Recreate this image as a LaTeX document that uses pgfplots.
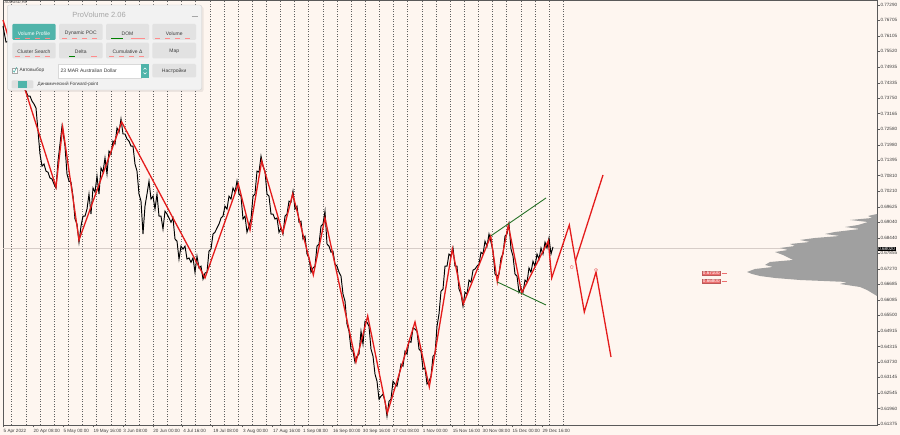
\documentclass[border=0pt]{standalone}
\usepackage{pgfplots}
\pgfplotsset{compat=1.18}
\usepackage{fontspec}
\setmainfont{Liberation Sans}
\definecolor{bgc}{RGB}{254,246,240}
\definecolor{axc}{RGB}{90,90,90}
\definecolor{txc}{RGB}{60,60,60}
\definecolor{redc}{RGB}{228,28,28}
\definecolor{greenc}{RGB}{40,115,40}
\definecolor{profc}{RGB}{160,160,160}
\definecolor{pricec}{RGB}{215,205,200}
\definecolor{lblred}{RGB}{236,110,110}
\definecolor{pinkc}{RGB}{240,140,140}
\definecolor{panelc}{RGB}{242,242,242}
\definecolor{btnc}{RGB}{226,226,226}
\definecolor{tealc}{RGB}{80,180,170}
\begin{document}
\begin{tikzpicture}
\fill[bgc] (-3pt,-10pt) rectangle (897pt,425pt);
\useasboundingbox (-3pt,-10pt) rectangle (897pt,425pt);
\begin{axis}[name=main, at={(0pt,0pt)}, anchor=south west,
  scale only axis, width=874pt, height=425pt,
  xmin=3, xmax=877, ymin=0.61338, ymax=0.77480, clip=false,
  axis line style={draw=axc, line width=0.5pt},
  xtick pos=bottom, ytick pos=right, yticklabel pos=right,
  tick align=outside, major tick length=2.5pt, tick style={axc, line width=0.4pt},
  xtick={3,32.94,62.88,92.82,122.76,152.7,182.64,212.58,242.52,272.46,302.4,332.34,362.28,392.22,422.16,452.1,482.04,511.98,541.92},
  xticklabels={5 Apr 2022,20 Apr 08:00,5 May 00:00,19 May 16:00,3 Jun 08:00,20 Jun 00:00,4 Jul 16:00,19 Jul 08:00,3 Aug 00:00,17 Aug 16:00,1 Sep 08:00,16 Sep 00:00,30 Sep 16:00,17 Oct 08:00,1 Nov 00:00,15 Nov 16:00,30 Nov 08:00,15 Dec 00:00,29 Dec 16:00},
  ytick={0.77290,0.76705,0.76105,0.75520,0.74935,0.74335,0.73750,0.73165,0.72580,0.71980,0.71395,0.70810,0.70210,0.69625,0.69040,0.68440,0.67855,0.67270,0.66685,0.66085,0.65500,0.64915,0.64315,0.63730,0.63145,0.62545,0.61960,0.61375},
  yticklabels={0.77290,0.76705,0.76105,0.75520,0.74935,0.74335,0.73750,0.73165,0.72580,0.71980,0.71395,0.70810,0.70210,0.69625,0.69040,0.68440,0.67855,0.67270,0.66685,0.66085,0.65500,0.64915,0.64315,0.63730,0.63145,0.62545,0.61960,0.61375},
  xticklabel style={font=\fontsize{4.6}{5}\selectfont, anchor=north west, inner xsep=0.5pt, inner ysep=1pt, text height=3.4pt, text depth=0.6pt, text=txc},
  yticklabel style={font=\fontsize{4.6}{5}\selectfont, anchor=west, inner xsep=0.8pt, text height=3.4pt, text depth=0.6pt, text=txc},
  extra x ticks={11.7,25.8,40.0,54.1,68.3,82.4,96.5,110.7,124.8,139.0,153.1,167.2,181.4,195.5,209.7,223.8,237.9,252.1,266.2,280.4,294.5,308.6,322.8,336.9,351.1,365.2,379.3,393.5,407.6,421.8,435.9,450.0,464.2,478.3,492.5,506.6,520.7,534.9,549.0,563.2},
  extra x tick labels={},
  extra x tick style={grid=major, major tick length=0pt, major grid style={dash pattern=on 1.2pt off 1.3pt, color=gray!75!black, line width=0.4pt}},
]
% current price line
\addplot[pricec, line width=0.7pt, no marks] coordinates {(3,0.6805) (877,0.6805)};
% volume profile
\addplot[fill=profc, draw=none, no marks] coordinates {(877,0.69352) (868,0.69276) (872,0.69200) (850,0.69124) (868,0.69048) (858,0.68934) (845,0.68858) (860,0.68782) (835,0.68669) (825,0.68593) (840,0.68517) (815,0.68441) (800,0.68365) (810,0.68289) (790,0.68213) (795,0.68137) (780,0.68061) (788,0.67985) (775,0.67909) (783,0.67795) (793,0.67605) (770,0.67529) (765,0.67415) (773,0.67339) (755,0.67263) (747,0.67149) (752,0.67073) (760,0.66997) (775,0.66922) (800,0.66845) (847,0.66770) (840,0.66694) (860,0.66580) (867,0.66466) (872,0.66352) (877,0.66238)};
% price
\addplot[black, line width=0.95pt, no marks] coordinates {(3,0.7649)(6,0.7588)(9,0.7592)(12,0.7535)(15,0.7535)(18,0.7482)(21,0.7478)(24,0.7410)(26,0.7402)(28,0.7383)(30,0.7383)(32,0.7364)(34,0.7353)(36,0.7338)(38,0.7250)(40,0.7163)(42,0.7117)(44,0.7125)(46,0.7098)(48,0.7094)(50,0.7072)(52,0.7068)(54,0.7049)(56,0.7034)(58,0.7136)(60,0.7201)(62,0.7269)(63,0.7246)(65,0.7193)(67,0.7087)(69,0.7060)(71,0.7056)(73,0.7003)(75,0.6916)(77,0.6897)(79,0.6828)(81,0.6889)(83,0.6927)(85,0.6927)(87,0.6954)(89,0.7011)(91,0.6935)(93,0.7034)(95,0.7018)(97,0.7079)(99,0.7011)(101,0.7110)(103,0.7094)(105,0.7148)(107,0.7087)(109,0.7174)(111,0.7163)(113,0.7212)(115,0.7201)(117,0.7262)(119,0.7246)(121,0.7296)(123,0.7239)(125,0.7239)(127,0.7220)(129,0.7212)(131,0.7193)(133,0.7193)(135,0.7125)(137,0.7098)(139,0.7011)(141,0.6984)(143,0.6859)(145,0.6965)(147,0.7011)(149,0.7060)(151,0.6992)(153,0.7003)(155,0.6954)(157,0.7011)(159,0.6927)(161,0.6927)(163,0.6878)(165,0.6946)(167,0.6935)(169,0.6920)(171,0.6904)(173,0.6920)(175,0.6840)(177,0.6832)(179,0.6764)(181,0.6813)(183,0.6802)(185,0.6813)(187,0.6764)(189,0.6768)(191,0.6752)(193,0.6768)(195,0.6714)(197,0.6775)(199,0.6730)(201,0.6737)(203,0.6688)(205,0.6711)(207,0.6714)(209,0.6794)(211,0.6802)(213,0.6859)(215,0.6866)(217,0.6882)(219,0.6897)(221,0.6920)(223,0.6927)(225,0.6965)(227,0.6954)(229,0.7003)(231,0.6992)(233,0.7034)(235,0.7018)(237,0.7060)(239,0.7011)(241,0.7003)(243,0.6916)(245,0.6927)(247,0.6866)(249,0.6889)(251,0.6916)(253,0.7003)(255,0.7011)(257,0.7098)(259,0.7094)(261,0.7155)(263,0.7117)(265,0.7098)(267,0.7011)(269,0.7003)(271,0.6935)(273,0.6935)(275,0.6916)(277,0.6920)(279,0.6866)(281,0.6882)(283,0.6859)(285,0.6927)(287,0.6935)(289,0.6984)(291,0.6980)(293,0.7022)(295,0.6954)(297,0.6965)(299,0.6904)(301,0.6908)(303,0.6840)(305,0.6851)(307,0.6783)(309,0.6768)(311,0.6714)(313,0.6730)(315,0.6737)(317,0.6813)(319,0.6821)(321,0.6889)(323,0.6897)(325,0.6946)(327,0.6821)(329,0.6813)(331,0.6790)(333,0.6794)(335,0.6745)(337,0.6737)(339,0.6714)(341,0.6699)(343,0.6631)(345,0.6604)(347,0.6517)(349,0.6490)(351,0.6422)(353,0.6414)(355,0.6372)(357,0.6395)(359,0.6403)(361,0.6490)(363,0.6441)(365,0.6528)(367,0.6524)(369,0.6509)(371,0.6422)(373,0.6395)(375,0.6327)(377,0.6300)(379,0.6232)(381,0.6243)(383,0.6251)(385,0.6224)(387,0.6167)(389,0.6224)(391,0.6232)(393,0.6300)(395,0.6289)(397,0.6281)(399,0.6319)(401,0.6365)(403,0.6357)(405,0.6414)(407,0.6403)(409,0.6452)(411,0.6448)(413,0.6502)(415,0.6498)(417,0.6490)(419,0.6422)(421,0.6414)(423,0.6346)(425,0.6350)(427,0.6289)(429,0.6300)(431,0.6319)(433,0.6395)(435,0.6403)(437,0.6509)(439,0.6555)(441,0.6642)(443,0.6650)(445,0.6737)(447,0.6737)(449,0.6783)(451,0.6775)(453,0.6806)(455,0.6737)(457,0.6737)(459,0.6650)(461,0.6631)(463,0.6585)(465,0.6638)(467,0.6631)(469,0.6684)(471,0.6676)(473,0.6722)(475,0.6726)(477,0.6737)(479,0.6745)(481,0.6790)(483,0.6783)(485,0.6832)(487,0.6813)(489,0.6859)(491,0.6828)(493,0.6794)(495,0.6707)(497,0.6699)(499,0.6707)(501,0.6768)(503,0.6783)(505,0.6851)(507,0.6859)(509,0.6897)(511,0.6802)(513,0.6775)(515,0.6707)(517,0.6699)(519,0.6638)(521,0.6654)(523,0.6638)(525,0.6684)(527,0.6676)(529,0.6730)(531,0.6714)(533,0.6756)(535,0.6737)(537,0.6783)(539,0.6764)(541,0.6806)(543,0.6783)(545,0.6828)(547,0.6806)(549,0.6844)(551,0.6783)(553,0.6810)};
% zigzag and projection
\addplot[redc, line width=1.3pt, no marks] coordinates {(3,0.7672)(56,0.70378)(62.7,0.72656)(79,0.68365)(121.7,0.72846)(205,0.66921)(238.3,0.70492)(250,0.68744)(261.7,0.71365)(282.7,0.68631)(292.7,0.70112)(313.3,0.67035)(325,0.692)(356,0.63731)(367.7,0.65478)(387.3,0.61794)(415,0.6525)(429.3,0.62782)(452.3,0.68023)(463.3,0.65934)(490.7,0.68517)(497.3,0.6677)(508.3,0.68934)(521.7,0.66352)(548.3,0.68327)(551.7,0.66921)(569.3,0.68934)(584.3,0.6563)(596,0.67149)(611,0.63921)};
\addplot[redc, line width=1.3pt, no marks] coordinates {(575.5,0.67567)(603,0.70833)};
% triangle
\addplot[greenc, line width=0.9pt, no marks] coordinates {(490.7,0.68517)(546,0.6996)};
\addplot[greenc, line width=0.9pt, no marks] coordinates {(497.3,0.6677)(546,0.65896)};
% projection markers
\addplot[only marks, mark=pentagon, mark size=1.6pt, draw=pinkc, fill=bgc, line width=0.5pt] coordinates {(571.7,0.6734) (596,0.67225)};
% level labels
\node[fill=lblred, draw=lblred!80!black, line width=0.3pt, text=white, font=\fontsize{4.6}{5}\selectfont, inner xsep=0.8pt, inner ysep=0.5pt, anchor=west] at (axis cs:702,0.6710) {0.67100};
\draw[lblred, line width=0.5pt] (axis cs:721.5,0.6710) -- (axis cs:727,0.6710);
\node[fill=lblred, draw=lblred!80!black, line width=0.3pt, text=white, font=\fontsize{4.6}{5}\selectfont, inner xsep=0.8pt, inner ysep=0.5pt, anchor=west] at (axis cs:702,0.6680) {0.66800};
\draw[lblred, line width=0.5pt] (axis cs:721.5,0.6680) -- (axis cs:727,0.6680);
% current price box
\node[fill=black, text=white, font=\fontsize{4.6}{5}\selectfont, inner xsep=0.6pt, inner ysep=0.6pt, anchor=west] at (axis cs:877.5,0.6802) {0.68020};
\node[anchor=north west, font=\fontsize{3.8}{4}\selectfont, text=txc, inner sep=0.5pt] at (axis cs:4,0.7748) {AUDUSD,H4};
\end{axis}
% ProVolume panel (pixel coordinates from the top-left corner of the plot area)
\begin{scope}[shift={(main.north west)}, x=1pt, y=-1pt]
\fill[black, opacity=0.07, rounded corners=2pt] (5.5,6.5) rectangle (200.5,92);
\filldraw[fill=panelc, draw=gray!35, line width=0.4pt, rounded corners=2pt] (4.3,5) rectangle (198.7,90);
\node[text=gray!70, font=\fontsize{7.5}{8}\selectfont] at (96,14.5) {ProVolume 2.06};
\draw[gray!70, line width=0.8pt] (188.5,16) -- (194.5,16);
% row 1
\fill[tealc, rounded corners=1.2pt] (9.3,24) rectangle (52.7,40);
\fill[btnc, rounded corners=1.2pt] (56,24) rectangle (99.7,40);
\fill[btnc, rounded corners=1.2pt] (103,24) rectangle (146,40);
\fill[btnc, rounded corners=1.2pt] (149.3,24) rectangle (193,40);
\node[text=white, font=\fontsize{5}{5.5}\selectfont] at (31,33.5) {Volume Profile};
\node[text=txc, font=\fontsize{5}{5.5}\selectfont] at (77.8,33.5) {Dynamic POC};
\node[text=txc, font=\fontsize{5}{5.5}\selectfont] at (124.5,33.5) {DOM};
\node[text=txc, font=\fontsize{5}{5.5}\selectfont] at (171.2,33.5) {Volume};
% row 2
\fill[btnc, rounded corners=1.2pt] (9.3,42.7) rectangle (52.7,58.3);
\fill[btnc, rounded corners=1.2pt] (56,42.7) rectangle (99.7,58.3);
\fill[btnc, rounded corners=1.2pt] (103,42.7) rectangle (146,58.3);
\fill[btnc, rounded corners=1.2pt] (149.3,42.7) rectangle (193,58.3);
\node[text=txc, font=\fontsize{5}{5.5}\selectfont] at (31,51.5) {Cluster Search};
\node[text=txc, font=\fontsize{5}{5.5}\selectfont] at (77.8,51.5) {Delta};
\node[text=txc, font=\fontsize{5}{5.5}\selectfont] at (124.5,51.5) {Cumulative Δ};
\node[text=txc, font=\fontsize{5}{5.5}\selectfont] at (171.2,51.5) {Map};
% small indicator dashes under the buttons
\foreach \xa in {12,22,32,42} {\draw[red!45, line width=0.5pt] (\xa,38) -- (\xa+5,38);}
\foreach \xa in {59,69,79,89} {\draw[red!45, line width=0.5pt] (\xa,38) -- (\xa+5,38);}
\draw[green!50!black, line width=0.5pt] (108,38) -- (120,38);
\draw[red!45, line width=0.5pt] (128,38) -- (142,38);
\foreach \xa in {152,162,172,182} {\draw[red!45, line width=0.5pt] (\xa,38) -- (\xa+5,38);}
\foreach \xa in {12,22,32,42} {\draw[red!45, line width=0.5pt] (\xa,56.5) -- (\xa+5,56.5);}
\draw[green!50!black, line width=0.5pt] (66,56.5) -- (72,56.5);
\draw[red!45, line width=0.5pt] (88,56.5) -- (94,56.5);
\foreach \xa in {106,116,126,136} {\draw[red!45, line width=0.5pt] (\xa,56.5) -- (\xa+5,56.5);}
% row 3
\filldraw[fill=white, draw=gray!70, line width=0.3pt] (9,68) rectangle (14,73);
\draw[tealc, line width=0.6pt] (9.8,70.5) -- (11.3,72.2) -- (13.6,67.2);
\node[anchor=west, text=txc, font=\fontsize{4.8}{5}\selectfont, inner sep=0.5pt] at (16,70.5) {Автовыбор};
\filldraw[fill=white, draw=gray!30, line width=0.3pt] (55.3,64) rectangle (137.7,78);
\node[anchor=west, text=txc, font=\fontsize{5}{5.5}\selectfont, inner sep=0.5pt] at (57,71) {23 MAR Australian Dollar};
\fill[tealc] (137.7,64) rectangle (146.3,78);
\draw[white, line width=0.4pt] (140.5,69.5) -- (142,68) -- (143.5,69.5);
\draw[white, line width=0.4pt] (140.5,72.5) -- (142,74) -- (143.5,72.5);
\fill[btnc, rounded corners=1.2pt] (149.3,64) rectangle (193,77.5);
\node[text=txc, font=\fontsize{5}{5.5}\selectfont] at (171.2,71) {Настройки};
% row 4
\fill[gray!25, rounded corners=1pt] (8.7,80.5) rectangle (30.3,88.5);
\fill[tealc] (15,81) rectangle (24,88);
\node[anchor=west, text=txc, font=\fontsize{4.6}{5}\selectfont, inner sep=0.5pt] at (34,84.5) {Динамический Forward-point};
\end{scope}
\end{tikzpicture}
\end{document}
